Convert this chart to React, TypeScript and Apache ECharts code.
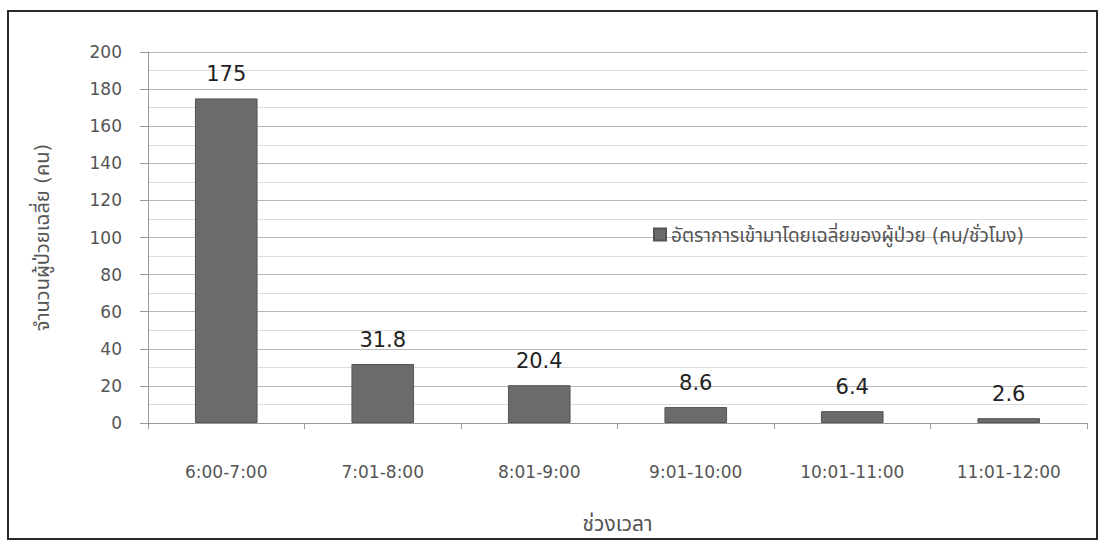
import React, { useEffect, useRef } from "react";
import * as echarts from "echarts";

const categories = ["6:00-7:00", "7:01-8:00", "8:01-9:00", "9:01-10:00", "10:01-11:00", "11:01-12:00"];
const values = [175, 31.8, 20.4, 8.6, 6.4, 2.6];
const seriesName = "อัตราการเข้ามาโดยเฉลี่ยของผู้ป่วย (คน/ชั่วโมง)";
const xName = "ช่วงเวลา";
const yName = "จำนวนผู้ป่วยเฉลี่ย (คน)";

const FONT = "'DejaVu Sans', 'Noto Sans Thai', Tahoma, sans-serif";

export default function App() {
  const ref = useRef<HTMLDivElement>(null);
  useEffect(() => {
    if (!ref.current) return;
    const chart = echarts.init(ref.current, undefined, { renderer: "svg" });
    chart.setOption({
      animation: false,
      backgroundColor: "#ffffff",
      textStyle: { fontFamily: FONT },
      graphic: [
        {
          type: "rect",
          shape: { x: 8, y: 11, width: 1089, height: 528 },
          style: { fill: "none", stroke: "#2a2a2a", lineWidth: 2 },
          z: 100,
          silent: true,
        },
      ],
      grid: { left: 148, right: 13, top: 52, bottom: 124 },
      legend: {
        show: true,
        left: 648,
        top: 220,
        itemWidth: 12,
        itemHeight: 12,
        itemGap: 6,
        icon: "rect",
        textStyle: { fontSize: 19, color: "#555", fontFamily: FONT },
        data: [seriesName],
      },
      xAxis: {
        type: "category",
        data: categories,
        boundaryGap: true,
        name: xName,
        nameLocation: "middle",
        nameGap: 90,
        nameTextStyle: { fontSize: 21, color: "#555", fontFamily: FONT },
        axisLine: { show: true, lineStyle: { color: "#999", width: 1 } },
        axisTick: { show: true, alignWithLabel: false, length: 6, lineStyle: { color: "#999" } },
        axisLabel: { fontSize: 17, color: "#555", margin: 40, fontFamily: FONT },
        splitLine: { show: false },
      },
      yAxis: {
        type: "value",
        min: 0,
        max: 200,
        interval: 20,
        name: yName,
        nameLocation: "middle",
        nameGap: 96,
        nameRotate: 90,
        nameTextStyle: { fontSize: 20, color: "#555", fontFamily: FONT },
        axisLine: { show: true, lineStyle: { color: "#999", width: 1 } },
        axisTick: { show: true, length: 8, lineStyle: { color: "#999" } },
        axisLabel: { fontSize: 17, color: "#555", margin: 26, fontFamily: FONT },
        splitLine: { show: true, lineStyle: { color: "#b8b8b8", width: 1 } },
        minorTick: { show: false, splitNumber: 2 },
        minorSplitLine: { show: true, lineStyle: { color: "#dcdcdc", width: 1 } },
      },
      series: [
        {
          name: seriesName,
          type: "bar",
          data: values,
          barWidth: "40%",
          itemStyle: { color: "#6b6b6b", borderColor: "#555", borderWidth: 1 },
          label: {
            show: true,
            position: "top",
            distance: 14,
            fontSize: 21,
            color: "#222",
            fontFamily: FONT,
          },
        },
      ],
    });
    return () => chart.dispose();
  }, []);
  return <div ref={ref} style={{ width: 1100, height: 547, position: "absolute", left: 0, top: 0 }} />;
}
